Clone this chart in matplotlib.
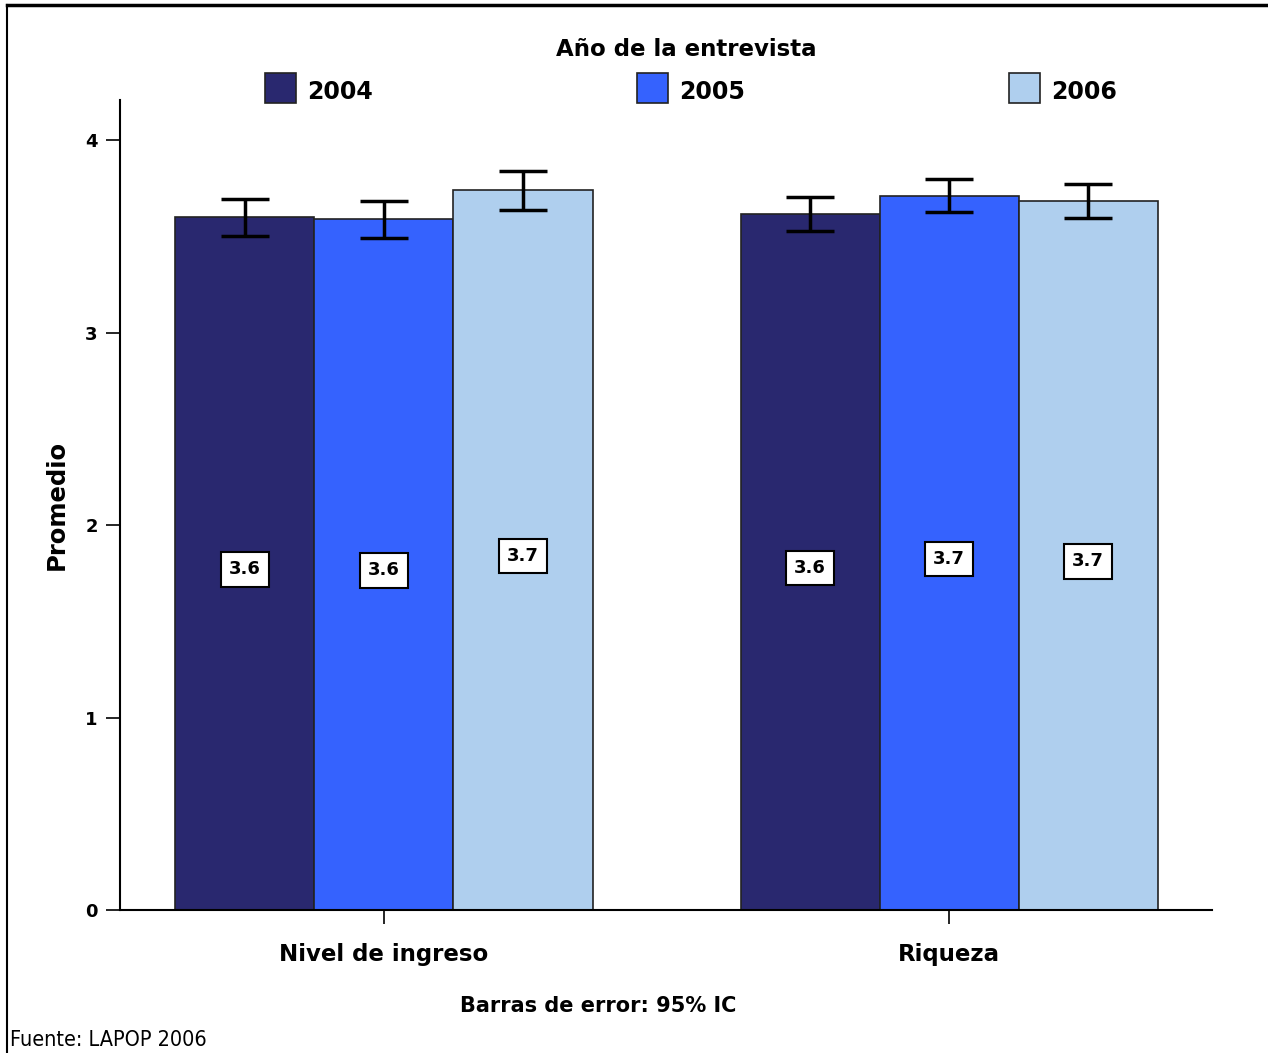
import matplotlib
matplotlib.use("Agg")
import matplotlib.pyplot as plt
from matplotlib.patches import Rectangle
from matplotlib.lines import Line2D
import numpy as np

categories = ["Nivel de ingreso", "Riqueza"]
years = ["2004", "2005", "2006"]
means = {
    "2004": [3.60, 3.615],
    "2005": [3.59, 3.709],
    "2006": [3.74, 3.683],
}
ci_low = {
    "2004": [3.501, 3.527],
    "2005": [3.491, 3.626],
    "2006": [3.636, 3.595],
}
ci_high = {
    "2004": [3.694, 3.704],
    "2005": [3.683, 3.797],
    "2006": [3.839, 3.771],
}
value_labels = {
    "2004": ["3.6", "3.6"],
    "2005": ["3.6", "3.7"],
    "2006": ["3.7", "3.7"],
}
colors = {"2004": "#29286F", "2005": "#3562FE", "2006": "#AFCFEE"}

fig = plt.figure(figsize=(12.68, 10.53), dpi=100)
ax = fig.add_axes([120/1268, 1-910/1053, (1212-120)/1268, (910-100)/1053])

x = np.arange(len(categories))
width = 0.246
offsets = [-width, 0, width]
for yr, off in zip(years, offsets):
    m = np.array(means[yr])
    lo = np.array(ci_low[yr])
    hi = np.array(ci_high[yr])
    ax.bar(x + off, m, width, color=colors[yr], edgecolor="#222222", linewidth=1.2, zorder=2)
    ax.errorbar(x + off, m, yerr=[m - lo, hi - m], fmt="none", ecolor="black",
                elinewidth=2.5, capsize=17, capthick=2.5, zorder=3)
    for xi, mv, lab in zip(x + off, m, value_labels[yr]):
        ax.text(xi, mv / 2 - 0.03, lab, ha="center", va="center", fontsize=13,
                fontweight="bold", zorder=4,
                bbox=dict(boxstyle="square,pad=0.45", fc="white", ec="black", lw=1.5))

ax.set_xlim(-0.467, 1.465)
ax.set_ylim(0, 4.21)
ax.set_yticks([0, 1, 2, 3, 4])
ax.set_yticklabels(["0", "1", "2", "3", "4"], fontsize=13, fontweight="bold")
ax.set_xticks(x)
ax.set_xticklabels(categories, fontsize=16.5, fontweight="bold")
ax.tick_params(axis="y", length=10, width=1.2, pad=6)
ax.tick_params(axis="x", length=10, width=1.2, pad=14)
for s in ["top", "right"]:
    ax.spines[s].set_visible(False)
ax.spines["left"].set_linewidth(1.5)
ax.spines["bottom"].set_linewidth(1.5)
ax.set_ylabel("Promedio", fontsize=17.5, fontweight="bold", labelpad=12)

# legend
fig.text(686/1268, 1-50/1053, "Año de la entrevista", ha="center", va="center",
         fontsize=16.5, fontweight="bold")
leg_x = [265, 637, 1009]
for yr, lx in zip(years, leg_x):
    fig.patches.append(Rectangle((lx/1268, 1-103/1053), 31/1268, 30/1053,
                                 transform=fig.transFigure, fc=colors[yr], ec="#222222", lw=1.2))
    fig.text((lx+42)/1268, 1-92/1053, yr, ha="left", va="center", fontsize=17, fontweight="bold")

fig.text(598/1268, 1-1006/1053, "Barras de error: 95% IC", ha="center", va="center",
         fontsize=15, fontweight="bold")
fig.text(10/1268, 1-1040/1053, "Fuente: LAPOP 2006", ha="left", va="center", fontsize=15.5,
         fontstretch="condensed")

# outer frame: top and left lines only
fig.lines.append(Line2D([7/1268, 1], [1-5/1053, 1-5/1053], transform=fig.transFigure,
                        color="black", lw=2.5))
fig.lines.append(Line2D([7/1268, 7/1268], [0, 1-5/1053], transform=fig.transFigure,
                        color="black", lw=1.5))

fig.savefig("out.png", dpi=100)
